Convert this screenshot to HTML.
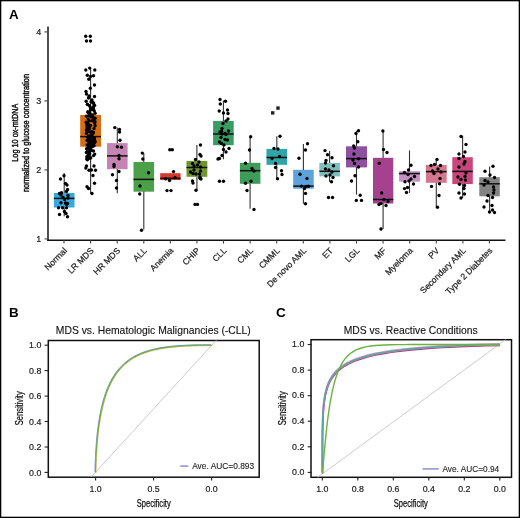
<!DOCTYPE html><html><head><meta charset="utf-8"><style>html,body{margin:0;padding:0;background:#fff;}svg{display:block;will-change:transform;}</style></head><body><svg width="520" height="518" viewBox="0 0 520 518" font-family="Liberation Sans, sans-serif">
<rect x="0" y="0" width="520" height="518" fill="#fff"/>
<text x="9.0" y="19.4" font-size="13.4" font-weight="bold" fill="#000">A</text>
<text x="9.1" y="317.4" font-size="13.4" font-weight="bold" fill="#000">B</text>
<text x="276.0" y="317.3" font-size="13.6" font-weight="bold" fill="#000">C</text>
<line x1="64.2" y1="173.1" x2="64.2" y2="216.3" stroke="#333" stroke-width="1.1"/>
<rect x="53.9" y="193.0" width="20.6" height="14.5" fill="#35A9DD"/>
<line x1="53.9" y1="198.4" x2="74.5" y2="198.4" stroke="#111" stroke-width="1.5"/>
<line x1="90.6" y1="68.0" x2="90.6" y2="193.8" stroke="#333" stroke-width="1.1"/>
<rect x="80.2" y="115.0" width="20.8" height="31.7" fill="#D56D15"/>
<line x1="80.2" y1="136.6" x2="101.0" y2="136.6" stroke="#111" stroke-width="1.5"/>
<line x1="117.3" y1="127.4" x2="117.3" y2="193.3" stroke="#333" stroke-width="1.1"/>
<rect x="107.0" y="143.1" width="20.6" height="26.1" fill="#C684B4"/>
<line x1="107.0" y1="155.9" x2="127.6" y2="155.9" stroke="#111" stroke-width="1.5"/>
<line x1="143.8" y1="153.0" x2="143.8" y2="229.6" stroke="#333" stroke-width="1.1"/>
<rect x="133.5" y="162.0" width="20.6" height="29.7" fill="#4DA04A"/>
<line x1="133.5" y1="179.4" x2="154.1" y2="179.4" stroke="#111" stroke-width="1.5"/>
<line x1="170.4" y1="173.2" x2="170.4" y2="180.1" stroke="#333" stroke-width="1.1"/>
<rect x="160.2" y="173.2" width="20.4" height="6.9" fill="#D8392D"/>
<line x1="160.2" y1="178.3" x2="180.6" y2="178.3" stroke="#111" stroke-width="1.5"/>
<line x1="196.9" y1="145.0" x2="196.9" y2="190.2" stroke="#333" stroke-width="1.1"/>
<rect x="186.5" y="160.9" width="20.8" height="15.9" fill="#70952F"/>
<line x1="186.5" y1="167.5" x2="207.3" y2="167.5" stroke="#111" stroke-width="1.5"/>
<line x1="223.4" y1="100.5" x2="223.4" y2="159.3" stroke="#333" stroke-width="1.1"/>
<rect x="213.1" y="120.9" width="20.6" height="24.3" fill="#399C63"/>
<line x1="213.1" y1="134.0" x2="233.7" y2="134.0" stroke="#111" stroke-width="1.5"/>
<line x1="250.1" y1="136.2" x2="250.1" y2="208.7" stroke="#333" stroke-width="1.1"/>
<rect x="239.9" y="162.8" width="20.5" height="21.0" fill="#3D9C58"/>
<line x1="239.9" y1="170.7" x2="260.4" y2="170.7" stroke="#111" stroke-width="1.5"/>
<line x1="276.8" y1="136.2" x2="276.8" y2="178.4" stroke="#333" stroke-width="1.1"/>
<rect x="266.5" y="148.9" width="20.6" height="15.9" fill="#2FA5A9"/>
<line x1="266.5" y1="157.5" x2="287.1" y2="157.5" stroke="#111" stroke-width="1.5"/>
<line x1="303.4" y1="143.9" x2="303.4" y2="203.8" stroke="#333" stroke-width="1.1"/>
<rect x="293.2" y="169.8" width="20.5" height="18.9" fill="#5CA3DB"/>
<line x1="293.2" y1="186.1" x2="313.7" y2="186.1" stroke="#111" stroke-width="1.5"/>
<line x1="329.6" y1="151.0" x2="329.6" y2="182.1" stroke="#333" stroke-width="1.1"/>
<rect x="319.4" y="162.8" width="20.5" height="13.6" fill="#7DBDBD"/>
<line x1="319.4" y1="171.3" x2="339.9" y2="171.3" stroke="#111" stroke-width="1.5"/>
<line x1="356.5" y1="130.8" x2="356.5" y2="194.6" stroke="#333" stroke-width="1.1"/>
<rect x="346.0" y="146.3" width="21.0" height="21.1" fill="#8F50A0"/>
<line x1="346.0" y1="158.6" x2="367.0" y2="158.6" stroke="#111" stroke-width="1.5"/>
<line x1="383.1" y1="131.0" x2="383.1" y2="228.9" stroke="#333" stroke-width="1.1"/>
<rect x="373.0" y="157.8" width="20.3" height="45.7" fill="#A5428F"/>
<line x1="373.0" y1="199.5" x2="393.3" y2="199.5" stroke="#111" stroke-width="1.5"/>
<line x1="409.5" y1="150.4" x2="409.5" y2="192.9" stroke="#333" stroke-width="1.1"/>
<rect x="399.1" y="171.2" width="20.8" height="10.5" fill="#C590C4"/>
<line x1="399.1" y1="173.6" x2="419.9" y2="173.6" stroke="#111" stroke-width="1.5"/>
<line x1="436.3" y1="159.6" x2="436.3" y2="207.0" stroke="#333" stroke-width="1.1"/>
<rect x="425.9" y="164.9" width="20.8" height="17.9" fill="#D5768F"/>
<line x1="425.9" y1="171.6" x2="446.7" y2="171.6" stroke="#111" stroke-width="1.5"/>
<line x1="462.6" y1="135.8" x2="462.6" y2="198.0" stroke="#333" stroke-width="1.1"/>
<rect x="452.3" y="157.2" width="20.5" height="26.9" fill="#C9467D"/>
<line x1="452.3" y1="171.4" x2="472.8" y2="171.4" stroke="#111" stroke-width="1.5"/>
<line x1="489.6" y1="166.4" x2="489.6" y2="212.8" stroke="#333" stroke-width="1.1"/>
<rect x="479.3" y="177.2" width="20.5" height="19.1" fill="#838383"/>
<line x1="479.3" y1="183.8" x2="499.8" y2="183.8" stroke="#111" stroke-width="1.5"/>
<circle cx="64.0" cy="175.8" r="1.68" fill="#000"/>
<circle cx="60.5" cy="179.0" r="1.68" fill="#000"/>
<circle cx="65.5" cy="183.5" r="1.68" fill="#000"/>
<circle cx="67.0" cy="185.0" r="1.68" fill="#000"/>
<circle cx="67.5" cy="189.5" r="1.68" fill="#000"/>
<circle cx="66.5" cy="191.5" r="1.68" fill="#000"/>
<circle cx="61.5" cy="192.8" r="1.68" fill="#000"/>
<circle cx="59.5" cy="193.5" r="1.68" fill="#000"/>
<circle cx="61.0" cy="195.0" r="1.68" fill="#000"/>
<circle cx="63.0" cy="197.5" r="1.68" fill="#000"/>
<circle cx="68.0" cy="195.5" r="1.68" fill="#000"/>
<circle cx="68.0" cy="198.0" r="1.68" fill="#000"/>
<circle cx="64.5" cy="199.5" r="1.68" fill="#000"/>
<circle cx="61.0" cy="202.8" r="1.68" fill="#000"/>
<circle cx="65.5" cy="203.0" r="1.68" fill="#000"/>
<circle cx="67.5" cy="203.5" r="1.68" fill="#000"/>
<circle cx="66.5" cy="204.5" r="1.68" fill="#000"/>
<circle cx="58.5" cy="207.8" r="1.68" fill="#000"/>
<circle cx="62.5" cy="207.8" r="1.68" fill="#000"/>
<circle cx="66.5" cy="207.8" r="1.68" fill="#000"/>
<circle cx="64.5" cy="211.5" r="1.68" fill="#000"/>
<circle cx="66.0" cy="213.5" r="1.68" fill="#000"/>
<circle cx="59.5" cy="214.5" r="1.68" fill="#000"/>
<circle cx="67.5" cy="216.8" r="1.68" fill="#000"/>
<circle cx="89.7" cy="68.1" r="1.68" fill="#000"/>
<circle cx="85.8" cy="70.0" r="1.68" fill="#000"/>
<circle cx="94.8" cy="70.0" r="1.68" fill="#000"/>
<circle cx="87.3" cy="75.2" r="1.68" fill="#000"/>
<circle cx="90.5" cy="76.5" r="1.68" fill="#000"/>
<circle cx="93.5" cy="75.8" r="1.68" fill="#000"/>
<circle cx="88.8" cy="79.3" r="1.68" fill="#000"/>
<circle cx="94.5" cy="85.0" r="1.68" fill="#000"/>
<circle cx="90.3" cy="88.2" r="1.68" fill="#000"/>
<circle cx="86.0" cy="91.5" r="1.68" fill="#000"/>
<circle cx="86.5" cy="94.0" r="1.68" fill="#000"/>
<circle cx="89.0" cy="96.0" r="1.68" fill="#000"/>
<circle cx="88.5" cy="98.0" r="1.68" fill="#000"/>
<circle cx="94.5" cy="96.5" r="1.68" fill="#000"/>
<circle cx="85.8" cy="168.0" r="1.68" fill="#000"/>
<circle cx="86.5" cy="166.0" r="1.68" fill="#000"/>
<circle cx="94.0" cy="166.0" r="1.68" fill="#000"/>
<circle cx="89.0" cy="170.3" r="1.68" fill="#000"/>
<circle cx="91.5" cy="170.0" r="1.68" fill="#000"/>
<circle cx="95.5" cy="170.3" r="1.68" fill="#000"/>
<circle cx="93.0" cy="175.5" r="1.68" fill="#000"/>
<circle cx="94.5" cy="183.2" r="1.68" fill="#000"/>
<circle cx="87.0" cy="186.7" r="1.68" fill="#000"/>
<circle cx="88.5" cy="188.5" r="1.68" fill="#000"/>
<circle cx="92.0" cy="193.5" r="1.68" fill="#000"/>
<circle cx="85.7" cy="36.2" r="1.68" fill="#000"/>
<circle cx="90.3" cy="36.2" r="1.68" fill="#000"/>
<circle cx="86.5" cy="41.0" r="1.68" fill="#000"/>
<circle cx="90.5" cy="41.0" r="1.68" fill="#000"/>
<circle cx="87.4" cy="159.8" r="1.68" fill="#000"/>
<circle cx="86.7" cy="158.9" r="1.68" fill="#000"/>
<circle cx="89.4" cy="158.3" r="1.68" fill="#000"/>
<circle cx="90.7" cy="157.9" r="1.68" fill="#000"/>
<circle cx="90.0" cy="157.3" r="1.68" fill="#000"/>
<circle cx="86.8" cy="156.6" r="1.68" fill="#000"/>
<circle cx="93.6" cy="155.6" r="1.68" fill="#000"/>
<circle cx="88.1" cy="155.2" r="1.68" fill="#000"/>
<circle cx="94.7" cy="154.1" r="1.68" fill="#000"/>
<circle cx="89.6" cy="153.5" r="1.68" fill="#000"/>
<circle cx="86.4" cy="152.5" r="1.68" fill="#000"/>
<circle cx="88.7" cy="151.9" r="1.68" fill="#000"/>
<circle cx="87.1" cy="151.7" r="1.68" fill="#000"/>
<circle cx="93.5" cy="151.0" r="1.68" fill="#000"/>
<circle cx="91.4" cy="150.4" r="1.68" fill="#000"/>
<circle cx="89.4" cy="149.4" r="1.68" fill="#000"/>
<circle cx="86.6" cy="148.8" r="1.68" fill="#000"/>
<circle cx="87.9" cy="148.4" r="1.68" fill="#000"/>
<circle cx="89.9" cy="147.4" r="1.68" fill="#000"/>
<circle cx="91.4" cy="147.2" r="1.68" fill="#000"/>
<circle cx="88.8" cy="146.8" r="1.68" fill="#000"/>
<circle cx="92.4" cy="146.4" r="1.68" fill="#000"/>
<circle cx="91.3" cy="146.2" r="1.68" fill="#000"/>
<circle cx="94.1" cy="145.8" r="1.68" fill="#000"/>
<circle cx="88.6" cy="145.4" r="1.68" fill="#000"/>
<circle cx="87.1" cy="145.0" r="1.68" fill="#000"/>
<circle cx="93.0" cy="144.9" r="1.68" fill="#000"/>
<circle cx="90.5" cy="144.6" r="1.68" fill="#000"/>
<circle cx="92.1" cy="144.3" r="1.68" fill="#000"/>
<circle cx="91.3" cy="143.8" r="1.68" fill="#000"/>
<circle cx="88.9" cy="143.4" r="1.68" fill="#000"/>
<circle cx="91.5" cy="143.2" r="1.68" fill="#000"/>
<circle cx="90.2" cy="142.9" r="1.68" fill="#000"/>
<circle cx="94.7" cy="142.5" r="1.68" fill="#000"/>
<circle cx="92.1" cy="142.2" r="1.68" fill="#000"/>
<circle cx="92.5" cy="142.1" r="1.68" fill="#000"/>
<circle cx="95.1" cy="141.5" r="1.68" fill="#000"/>
<circle cx="88.6" cy="141.2" r="1.68" fill="#000"/>
<circle cx="92.2" cy="141.0" r="1.68" fill="#000"/>
<circle cx="90.2" cy="140.8" r="1.68" fill="#000"/>
<circle cx="87.1" cy="140.4" r="1.68" fill="#000"/>
<circle cx="93.1" cy="140.1" r="1.68" fill="#000"/>
<circle cx="88.3" cy="139.7" r="1.68" fill="#000"/>
<circle cx="94.0" cy="139.3" r="1.68" fill="#000"/>
<circle cx="90.1" cy="139.1" r="1.68" fill="#000"/>
<circle cx="94.1" cy="138.6" r="1.68" fill="#000"/>
<circle cx="93.9" cy="138.2" r="1.68" fill="#000"/>
<circle cx="89.8" cy="138.1" r="1.68" fill="#000"/>
<circle cx="94.1" cy="137.7" r="1.68" fill="#000"/>
<circle cx="87.4" cy="137.2" r="1.68" fill="#000"/>
<circle cx="88.1" cy="137.1" r="1.68" fill="#000"/>
<circle cx="90.5" cy="136.8" r="1.68" fill="#000"/>
<circle cx="88.4" cy="136.1" r="1.68" fill="#000"/>
<circle cx="89.9" cy="135.9" r="1.68" fill="#000"/>
<circle cx="91.2" cy="135.2" r="1.68" fill="#000"/>
<circle cx="92.4" cy="134.3" r="1.68" fill="#000"/>
<circle cx="91.7" cy="134.0" r="1.68" fill="#000"/>
<circle cx="86.5" cy="133.4" r="1.68" fill="#000"/>
<circle cx="93.2" cy="132.7" r="1.68" fill="#000"/>
<circle cx="93.3" cy="132.2" r="1.68" fill="#000"/>
<circle cx="89.7" cy="131.9" r="1.68" fill="#000"/>
<circle cx="91.8" cy="131.6" r="1.68" fill="#000"/>
<circle cx="86.6" cy="131.0" r="1.68" fill="#000"/>
<circle cx="87.5" cy="130.4" r="1.68" fill="#000"/>
<circle cx="86.5" cy="129.8" r="1.68" fill="#000"/>
<circle cx="87.4" cy="129.5" r="1.68" fill="#000"/>
<circle cx="89.3" cy="128.9" r="1.68" fill="#000"/>
<circle cx="94.0" cy="128.4" r="1.68" fill="#000"/>
<circle cx="87.4" cy="127.5" r="1.68" fill="#000"/>
<circle cx="89.2" cy="127.2" r="1.68" fill="#000"/>
<circle cx="87.1" cy="126.6" r="1.68" fill="#000"/>
<circle cx="95.1" cy="125.8" r="1.68" fill="#000"/>
<circle cx="90.5" cy="125.4" r="1.68" fill="#000"/>
<circle cx="86.9" cy="125.1" r="1.68" fill="#000"/>
<circle cx="88.4" cy="124.4" r="1.68" fill="#000"/>
<circle cx="87.5" cy="123.6" r="1.68" fill="#000"/>
<circle cx="94.7" cy="123.5" r="1.68" fill="#000"/>
<circle cx="87.3" cy="122.7" r="1.68" fill="#000"/>
<circle cx="86.2" cy="122.2" r="1.68" fill="#000"/>
<circle cx="95.0" cy="121.6" r="1.68" fill="#000"/>
<circle cx="92.4" cy="120.9" r="1.68" fill="#000"/>
<circle cx="89.4" cy="120.7" r="1.68" fill="#000"/>
<circle cx="93.1" cy="120.2" r="1.68" fill="#000"/>
<circle cx="93.2" cy="119.5" r="1.68" fill="#000"/>
<circle cx="88.1" cy="119.0" r="1.68" fill="#000"/>
<circle cx="95.1" cy="118.2" r="1.68" fill="#000"/>
<circle cx="93.4" cy="117.6" r="1.68" fill="#000"/>
<circle cx="92.8" cy="117.0" r="1.68" fill="#000"/>
<circle cx="90.8" cy="116.8" r="1.68" fill="#000"/>
<circle cx="86.3" cy="116.1" r="1.68" fill="#000"/>
<circle cx="88.6" cy="115.6" r="1.68" fill="#000"/>
<circle cx="92.4" cy="114.9" r="1.68" fill="#000"/>
<circle cx="90.1" cy="113.8" r="1.68" fill="#000"/>
<circle cx="95.1" cy="113.2" r="1.68" fill="#000"/>
<circle cx="89.4" cy="112.5" r="1.68" fill="#000"/>
<circle cx="88.1" cy="112.4" r="1.68" fill="#000"/>
<circle cx="87.9" cy="111.8" r="1.68" fill="#000"/>
<circle cx="94.3" cy="110.9" r="1.68" fill="#000"/>
<circle cx="90.4" cy="110.1" r="1.68" fill="#000"/>
<circle cx="93.4" cy="109.6" r="1.68" fill="#000"/>
<circle cx="92.1" cy="109.3" r="1.68" fill="#000"/>
<circle cx="93.2" cy="108.2" r="1.68" fill="#000"/>
<circle cx="90.4" cy="107.7" r="1.68" fill="#000"/>
<circle cx="93.3" cy="107.4" r="1.68" fill="#000"/>
<circle cx="93.4" cy="106.7" r="1.68" fill="#000"/>
<circle cx="89.6" cy="105.7" r="1.68" fill="#000"/>
<circle cx="94.7" cy="105.4" r="1.68" fill="#000"/>
<circle cx="87.6" cy="104.6" r="1.68" fill="#000"/>
<circle cx="87.4" cy="104.3" r="1.68" fill="#000"/>
<circle cx="93.4" cy="103.2" r="1.68" fill="#000"/>
<circle cx="93.6" cy="103.0" r="1.68" fill="#000"/>
<circle cx="92.0" cy="101.9" r="1.68" fill="#000"/>
<circle cx="91.0" cy="101.7" r="1.68" fill="#000"/>
<circle cx="86.1" cy="101.2" r="1.68" fill="#000"/>
<circle cx="92.0" cy="100.0" r="1.68" fill="#000"/>
<circle cx="114.8" cy="127.6" r="1.68" fill="#000"/>
<circle cx="119.5" cy="129.5" r="1.68" fill="#000"/>
<circle cx="119.5" cy="132.0" r="1.68" fill="#000"/>
<circle cx="120.0" cy="140.3" r="1.68" fill="#000"/>
<circle cx="117.3" cy="146.8" r="1.68" fill="#000"/>
<circle cx="121.5" cy="147.2" r="1.68" fill="#000"/>
<circle cx="119.0" cy="155.5" r="1.68" fill="#000"/>
<circle cx="119.0" cy="158.7" r="1.68" fill="#000"/>
<circle cx="114.0" cy="164.5" r="1.68" fill="#000"/>
<circle cx="114.0" cy="166.5" r="1.68" fill="#000"/>
<circle cx="119.0" cy="171.5" r="1.68" fill="#000"/>
<circle cx="112.5" cy="174.8" r="1.68" fill="#000"/>
<circle cx="116.5" cy="180.5" r="1.68" fill="#000"/>
<circle cx="116.5" cy="188.0" r="1.68" fill="#000"/>
<circle cx="141.5" cy="230.2" r="1.68" fill="#000"/>
<circle cx="142.3" cy="153.1" r="1.68" fill="#000"/>
<circle cx="142.8" cy="159.0" r="1.68" fill="#000"/>
<circle cx="148.5" cy="172.7" r="1.68" fill="#000"/>
<circle cx="140.0" cy="186.0" r="1.68" fill="#000"/>
<circle cx="139.7" cy="194.0" r="1.68" fill="#000"/>
<circle cx="169.8" cy="149.8" r="1.68" fill="#000"/>
<circle cx="172.3" cy="149.8" r="1.68" fill="#000"/>
<circle cx="173.5" cy="171.6" r="1.68" fill="#000"/>
<circle cx="175.0" cy="177.5" r="1.68" fill="#000"/>
<circle cx="165.5" cy="178.7" r="1.68" fill="#000"/>
<circle cx="169.5" cy="180.5" r="1.68" fill="#000"/>
<circle cx="167.0" cy="190.6" r="1.68" fill="#000"/>
<circle cx="171.0" cy="190.6" r="1.68" fill="#000"/>
<circle cx="200.5" cy="145.0" r="1.68" fill="#000"/>
<circle cx="200.0" cy="154.5" r="1.68" fill="#000"/>
<circle cx="201.0" cy="156.0" r="1.68" fill="#000"/>
<circle cx="195.5" cy="159.5" r="1.68" fill="#000"/>
<circle cx="199.0" cy="162.0" r="1.68" fill="#000"/>
<circle cx="192.5" cy="163.5" r="1.68" fill="#000"/>
<circle cx="194.0" cy="166.0" r="1.68" fill="#000"/>
<circle cx="197.5" cy="165.0" r="1.68" fill="#000"/>
<circle cx="200.5" cy="167.0" r="1.68" fill="#000"/>
<circle cx="194.0" cy="170.0" r="1.68" fill="#000"/>
<circle cx="200.5" cy="171.0" r="1.68" fill="#000"/>
<circle cx="190.5" cy="172.0" r="1.68" fill="#000"/>
<circle cx="193.0" cy="173.5" r="1.68" fill="#000"/>
<circle cx="196.0" cy="174.0" r="1.68" fill="#000"/>
<circle cx="199.5" cy="174.0" r="1.68" fill="#000"/>
<circle cx="200.0" cy="177.0" r="1.68" fill="#000"/>
<circle cx="201.0" cy="179.0" r="1.68" fill="#000"/>
<circle cx="192.5" cy="181.0" r="1.68" fill="#000"/>
<circle cx="193.0" cy="183.0" r="1.68" fill="#000"/>
<circle cx="200.0" cy="178.3" r="1.68" fill="#000"/>
<circle cx="196.0" cy="190.3" r="1.68" fill="#000"/>
<circle cx="195.0" cy="204.4" r="1.68" fill="#000"/>
<circle cx="197.5" cy="204.4" r="1.68" fill="#000"/>
<circle cx="220.0" cy="99.5" r="1.68" fill="#000"/>
<circle cx="225.5" cy="101.2" r="1.68" fill="#000"/>
<circle cx="220.3" cy="104.0" r="1.68" fill="#000"/>
<circle cx="219.2" cy="111.0" r="1.68" fill="#000"/>
<circle cx="227.5" cy="110.0" r="1.68" fill="#000"/>
<circle cx="223.5" cy="113.0" r="1.68" fill="#000"/>
<circle cx="228.0" cy="113.5" r="1.68" fill="#000"/>
<circle cx="228.0" cy="119.0" r="1.68" fill="#000"/>
<circle cx="226.0" cy="121.0" r="1.68" fill="#000"/>
<circle cx="223.0" cy="123.5" r="1.68" fill="#000"/>
<circle cx="222.0" cy="128.5" r="1.68" fill="#000"/>
<circle cx="228.5" cy="131.0" r="1.68" fill="#000"/>
<circle cx="220.0" cy="132.0" r="1.68" fill="#000"/>
<circle cx="222.0" cy="134.0" r="1.68" fill="#000"/>
<circle cx="226.0" cy="134.5" r="1.68" fill="#000"/>
<circle cx="221.5" cy="131.2" r="1.68" fill="#000"/>
<circle cx="225.0" cy="133.5" r="1.68" fill="#000"/>
<circle cx="221.0" cy="137.5" r="1.68" fill="#000"/>
<circle cx="225.0" cy="139.5" r="1.68" fill="#000"/>
<circle cx="227.5" cy="140.0" r="1.68" fill="#000"/>
<circle cx="219.5" cy="142.0" r="1.68" fill="#000"/>
<circle cx="221.5" cy="143.5" r="1.68" fill="#000"/>
<circle cx="224.0" cy="145.0" r="1.68" fill="#000"/>
<circle cx="229.0" cy="148.5" r="1.68" fill="#000"/>
<circle cx="223.5" cy="149.5" r="1.68" fill="#000"/>
<circle cx="226.0" cy="152.0" r="1.68" fill="#000"/>
<circle cx="222.0" cy="155.5" r="1.68" fill="#000"/>
<circle cx="218.0" cy="159.0" r="1.68" fill="#000"/>
<circle cx="219.5" cy="158.5" r="1.68" fill="#000"/>
<circle cx="219.5" cy="181.3" r="1.68" fill="#000"/>
<circle cx="223.5" cy="181.3" r="1.68" fill="#000"/>
<circle cx="250.7" cy="136.8" r="1.68" fill="#000"/>
<circle cx="249.5" cy="150.0" r="1.68" fill="#000"/>
<circle cx="245.5" cy="163.3" r="1.68" fill="#000"/>
<circle cx="252.0" cy="168.5" r="1.68" fill="#000"/>
<circle cx="254.0" cy="171.0" r="1.68" fill="#000"/>
<circle cx="245.5" cy="183.3" r="1.68" fill="#000"/>
<circle cx="251.0" cy="181.3" r="1.68" fill="#000"/>
<circle cx="247.0" cy="190.5" r="1.68" fill="#000"/>
<circle cx="254.0" cy="209.5" r="1.68" fill="#000"/>
<circle cx="280.0" cy="136.3" r="1.68" fill="#000"/>
<circle cx="274.0" cy="148.5" r="1.68" fill="#000"/>
<circle cx="278.0" cy="149.0" r="1.68" fill="#000"/>
<circle cx="272.0" cy="158.5" r="1.68" fill="#000"/>
<circle cx="279.5" cy="156.5" r="1.68" fill="#000"/>
<circle cx="275.5" cy="163.5" r="1.68" fill="#000"/>
<circle cx="275.5" cy="167.5" r="1.68" fill="#000"/>
<circle cx="281.5" cy="170.8" r="1.68" fill="#000"/>
<circle cx="282.0" cy="174.5" r="1.68" fill="#000"/>
<circle cx="277.5" cy="178.7" r="1.68" fill="#000"/>
<circle cx="307.5" cy="143.7" r="1.68" fill="#000"/>
<circle cx="305.5" cy="150.0" r="1.68" fill="#000"/>
<circle cx="299.0" cy="158.3" r="1.68" fill="#000"/>
<circle cx="300.0" cy="174.3" r="1.68" fill="#000"/>
<circle cx="307.0" cy="178.5" r="1.68" fill="#000"/>
<circle cx="301.5" cy="186.1" r="1.68" fill="#000"/>
<circle cx="306.0" cy="186.4" r="1.68" fill="#000"/>
<circle cx="308.5" cy="186.3" r="1.68" fill="#000"/>
<circle cx="304.5" cy="188.5" r="1.68" fill="#000"/>
<circle cx="305.5" cy="193.4" r="1.68" fill="#000"/>
<circle cx="305.5" cy="203.8" r="1.68" fill="#000"/>
<circle cx="325.0" cy="150.6" r="1.68" fill="#000"/>
<circle cx="327.5" cy="154.8" r="1.68" fill="#000"/>
<circle cx="332.0" cy="157.7" r="1.68" fill="#000"/>
<circle cx="326.0" cy="160.5" r="1.68" fill="#000"/>
<circle cx="325.5" cy="163.0" r="1.68" fill="#000"/>
<circle cx="333.5" cy="165.7" r="1.68" fill="#000"/>
<circle cx="325.5" cy="169.0" r="1.68" fill="#000"/>
<circle cx="329.0" cy="170.0" r="1.68" fill="#000"/>
<circle cx="332.0" cy="172.0" r="1.68" fill="#000"/>
<circle cx="326.0" cy="176.0" r="1.68" fill="#000"/>
<circle cx="330.0" cy="175.0" r="1.68" fill="#000"/>
<circle cx="333.0" cy="177.5" r="1.68" fill="#000"/>
<circle cx="331.5" cy="181.7" r="1.68" fill="#000"/>
<circle cx="328.5" cy="197.5" r="1.68" fill="#000"/>
<circle cx="332.5" cy="197.5" r="1.68" fill="#000"/>
<circle cx="358.5" cy="130.8" r="1.68" fill="#000"/>
<circle cx="356.0" cy="133.5" r="1.68" fill="#000"/>
<circle cx="357.8" cy="141.7" r="1.68" fill="#000"/>
<circle cx="353.7" cy="146.0" r="1.68" fill="#000"/>
<circle cx="354.5" cy="148.0" r="1.68" fill="#000"/>
<circle cx="354.0" cy="154.0" r="1.68" fill="#000"/>
<circle cx="353.0" cy="160.0" r="1.68" fill="#000"/>
<circle cx="358.5" cy="158.8" r="1.68" fill="#000"/>
<circle cx="354.5" cy="163.5" r="1.68" fill="#000"/>
<circle cx="358.5" cy="167.0" r="1.68" fill="#000"/>
<circle cx="355.0" cy="175.7" r="1.68" fill="#000"/>
<circle cx="351.5" cy="181.0" r="1.68" fill="#000"/>
<circle cx="360.2" cy="195.2" r="1.68" fill="#000"/>
<circle cx="356.3" cy="200.4" r="1.68" fill="#000"/>
<circle cx="361.5" cy="200.4" r="1.68" fill="#000"/>
<circle cx="382.9" cy="131.0" r="1.68" fill="#000"/>
<circle cx="383.5" cy="149.5" r="1.68" fill="#000"/>
<circle cx="387.0" cy="152.5" r="1.68" fill="#000"/>
<circle cx="379.3" cy="163.3" r="1.68" fill="#000"/>
<circle cx="381.7" cy="193.0" r="1.68" fill="#000"/>
<circle cx="384.0" cy="199.5" r="1.68" fill="#000"/>
<circle cx="388.0" cy="201.5" r="1.68" fill="#000"/>
<circle cx="381.0" cy="203.5" r="1.68" fill="#000"/>
<circle cx="379.0" cy="204.5" r="1.68" fill="#000"/>
<circle cx="386.0" cy="205.5" r="1.68" fill="#000"/>
<circle cx="381.0" cy="229.0" r="1.68" fill="#000"/>
<circle cx="411.0" cy="165.3" r="1.68" fill="#000"/>
<circle cx="408.5" cy="170.0" r="1.68" fill="#000"/>
<circle cx="404.5" cy="172.5" r="1.68" fill="#000"/>
<circle cx="408.0" cy="174.5" r="1.68" fill="#000"/>
<circle cx="414.5" cy="176.5" r="1.68" fill="#000"/>
<circle cx="411.0" cy="179.0" r="1.68" fill="#000"/>
<circle cx="405.0" cy="181.7" r="1.68" fill="#000"/>
<circle cx="409.0" cy="181.0" r="1.68" fill="#000"/>
<circle cx="413.5" cy="184.0" r="1.68" fill="#000"/>
<circle cx="407.5" cy="187.5" r="1.68" fill="#000"/>
<circle cx="406.5" cy="192.5" r="1.68" fill="#000"/>
<circle cx="404.5" cy="188.6" r="1.68" fill="#000"/>
<circle cx="437.0" cy="159.4" r="1.68" fill="#000"/>
<circle cx="434.5" cy="164.5" r="1.68" fill="#000"/>
<circle cx="431.0" cy="165.5" r="1.68" fill="#000"/>
<circle cx="440.5" cy="165.5" r="1.68" fill="#000"/>
<circle cx="438.0" cy="169.0" r="1.68" fill="#000"/>
<circle cx="432.5" cy="171.0" r="1.68" fill="#000"/>
<circle cx="434.0" cy="173.5" r="1.68" fill="#000"/>
<circle cx="441.0" cy="172.0" r="1.68" fill="#000"/>
<circle cx="440.0" cy="178.5" r="1.68" fill="#000"/>
<circle cx="439.5" cy="183.7" r="1.68" fill="#000"/>
<circle cx="431.5" cy="186.4" r="1.68" fill="#000"/>
<circle cx="439.0" cy="195.5" r="1.68" fill="#000"/>
<circle cx="437.5" cy="207.2" r="1.68" fill="#000"/>
<circle cx="461.0" cy="136.5" r="1.68" fill="#000"/>
<circle cx="466.0" cy="144.5" r="1.68" fill="#000"/>
<circle cx="459.0" cy="154.0" r="1.68" fill="#000"/>
<circle cx="465.0" cy="152.0" r="1.68" fill="#000"/>
<circle cx="463.5" cy="156.5" r="1.68" fill="#000"/>
<circle cx="459.0" cy="158.5" r="1.68" fill="#000"/>
<circle cx="465.0" cy="161.5" r="1.68" fill="#000"/>
<circle cx="464.0" cy="164.0" r="1.68" fill="#000"/>
<circle cx="459.0" cy="167.0" r="1.68" fill="#000"/>
<circle cx="466.0" cy="173.0" r="1.68" fill="#000"/>
<circle cx="465.0" cy="176.5" r="1.68" fill="#000"/>
<circle cx="458.0" cy="177.0" r="1.68" fill="#000"/>
<circle cx="461.0" cy="179.5" r="1.68" fill="#000"/>
<circle cx="465.5" cy="180.0" r="1.68" fill="#000"/>
<circle cx="459.5" cy="184.2" r="1.68" fill="#000"/>
<circle cx="464.5" cy="185.5" r="1.68" fill="#000"/>
<circle cx="464.0" cy="188.5" r="1.68" fill="#000"/>
<circle cx="459.0" cy="193.0" r="1.68" fill="#000"/>
<circle cx="464.5" cy="194.0" r="1.68" fill="#000"/>
<circle cx="461.0" cy="198.0" r="1.68" fill="#000"/>
<circle cx="493.0" cy="166.3" r="1.68" fill="#000"/>
<circle cx="485.0" cy="171.3" r="1.68" fill="#000"/>
<circle cx="490.0" cy="175.0" r="1.68" fill="#000"/>
<circle cx="494.5" cy="177.5" r="1.68" fill="#000"/>
<circle cx="485.0" cy="180.5" r="1.68" fill="#000"/>
<circle cx="488.0" cy="182.0" r="1.68" fill="#000"/>
<circle cx="484.0" cy="185.0" r="1.68" fill="#000"/>
<circle cx="493.5" cy="187.0" r="1.68" fill="#000"/>
<circle cx="494.0" cy="190.0" r="1.68" fill="#000"/>
<circle cx="493.5" cy="193.0" r="1.68" fill="#000"/>
<circle cx="488.0" cy="195.5" r="1.68" fill="#000"/>
<circle cx="492.5" cy="197.5" r="1.68" fill="#000"/>
<circle cx="487.0" cy="201.0" r="1.68" fill="#000"/>
<circle cx="492.0" cy="205.5" r="1.68" fill="#000"/>
<circle cx="484.0" cy="207.0" r="1.68" fill="#000"/>
<circle cx="492.5" cy="210.0" r="1.68" fill="#000"/>
<circle cx="494.5" cy="212.5" r="1.68" fill="#000"/>
<circle cx="489.5" cy="212.0" r="1.68" fill="#000"/>
<rect x="271" y="111.2" width="3.4" height="3.4" fill="#222"/><rect x="276.3" y="106.4" width="3.4" height="3.4" fill="#222"/>
<line x1="48" y1="26.5" x2="48" y2="241" stroke="#222" stroke-width="1.6"/>
<line x1="47.2" y1="240.3" x2="505.5" y2="240.3" stroke="#111" stroke-width="1.6"/>
<line x1="44.5" y1="238.9" x2="48" y2="238.9" stroke="#444" stroke-width="1.1"/>
<text x="41.3" y="242.1" font-size="9" text-anchor="end" fill="#1a1a1a" stroke="#1a1a1a" stroke-width="0.2">1</text>
<line x1="44.5" y1="169.9" x2="48" y2="169.9" stroke="#444" stroke-width="1.1"/>
<text x="41.3" y="173.1" font-size="9" text-anchor="end" fill="#1a1a1a" stroke="#1a1a1a" stroke-width="0.2">2</text>
<line x1="44.5" y1="100.9" x2="48" y2="100.9" stroke="#444" stroke-width="1.1"/>
<text x="41.3" y="104.1" font-size="9" text-anchor="end" fill="#1a1a1a" stroke="#1a1a1a" stroke-width="0.2">3</text>
<line x1="44.5" y1="31.9" x2="48" y2="31.9" stroke="#444" stroke-width="1.1"/>
<text x="41.3" y="35.1" font-size="9" text-anchor="end" fill="#1a1a1a" stroke="#1a1a1a" stroke-width="0.2">4</text>
<line x1="64.0" y1="240.3" x2="64.0" y2="243.6" stroke="#444" stroke-width="1.1"/>
<text transform="translate(67.6,251.2) rotate(-45)" font-size="8.6" text-anchor="end" fill="#1a1a1a" stroke="#1a1a1a" stroke-width="0.2">Normal</text>
<line x1="90.6" y1="240.3" x2="90.6" y2="243.6" stroke="#444" stroke-width="1.1"/>
<text transform="translate(94.2,251.2) rotate(-45)" font-size="8.6" text-anchor="end" fill="#1a1a1a" stroke="#1a1a1a" stroke-width="0.2">LR MDS</text>
<line x1="117.2" y1="240.3" x2="117.2" y2="243.6" stroke="#444" stroke-width="1.1"/>
<text transform="translate(120.8,251.2) rotate(-45)" font-size="8.6" text-anchor="end" fill="#1a1a1a" stroke="#1a1a1a" stroke-width="0.2">HR MDS</text>
<line x1="143.8" y1="240.3" x2="143.8" y2="243.6" stroke="#444" stroke-width="1.1"/>
<text transform="translate(147.4,251.2) rotate(-45)" font-size="8.6" text-anchor="end" fill="#1a1a1a" stroke="#1a1a1a" stroke-width="0.2">ALL</text>
<line x1="170.4" y1="240.3" x2="170.4" y2="243.6" stroke="#444" stroke-width="1.1"/>
<text transform="translate(174.0,251.2) rotate(-45)" font-size="8.6" text-anchor="end" fill="#1a1a1a" stroke="#1a1a1a" stroke-width="0.2">Anemia</text>
<line x1="196.9" y1="240.3" x2="196.9" y2="243.6" stroke="#444" stroke-width="1.1"/>
<text transform="translate(200.5,251.2) rotate(-45)" font-size="8.6" text-anchor="end" fill="#1a1a1a" stroke="#1a1a1a" stroke-width="0.2">CHIP</text>
<line x1="223.5" y1="240.3" x2="223.5" y2="243.6" stroke="#444" stroke-width="1.1"/>
<text transform="translate(227.1,251.2) rotate(-45)" font-size="8.6" text-anchor="end" fill="#1a1a1a" stroke="#1a1a1a" stroke-width="0.2">CLL</text>
<line x1="250.1" y1="240.3" x2="250.1" y2="243.6" stroke="#444" stroke-width="1.1"/>
<text transform="translate(253.7,251.2) rotate(-45)" font-size="8.6" text-anchor="end" fill="#1a1a1a" stroke="#1a1a1a" stroke-width="0.2">CML</text>
<line x1="276.7" y1="240.3" x2="276.7" y2="243.6" stroke="#444" stroke-width="1.1"/>
<text transform="translate(280.3,251.2) rotate(-45)" font-size="8.6" text-anchor="end" fill="#1a1a1a" stroke="#1a1a1a" stroke-width="0.2">CMML</text>
<line x1="303.3" y1="240.3" x2="303.3" y2="243.6" stroke="#444" stroke-width="1.1"/>
<text transform="translate(306.9,251.2) rotate(-45)" font-size="8.6" text-anchor="end" fill="#1a1a1a" stroke="#1a1a1a" stroke-width="0.2">De novo AML</text>
<line x1="329.9" y1="240.3" x2="329.9" y2="243.6" stroke="#444" stroke-width="1.1"/>
<text transform="translate(333.5,251.2) rotate(-45)" font-size="8.6" text-anchor="end" fill="#1a1a1a" stroke="#1a1a1a" stroke-width="0.2">ET</text>
<line x1="356.5" y1="240.3" x2="356.5" y2="243.6" stroke="#444" stroke-width="1.1"/>
<text transform="translate(360.1,251.2) rotate(-45)" font-size="8.6" text-anchor="end" fill="#1a1a1a" stroke="#1a1a1a" stroke-width="0.2">LGL</text>
<line x1="383.1" y1="240.3" x2="383.1" y2="243.6" stroke="#444" stroke-width="1.1"/>
<text transform="translate(386.7,251.2) rotate(-45)" font-size="8.6" text-anchor="end" fill="#1a1a1a" stroke="#1a1a1a" stroke-width="0.2">MF</text>
<line x1="409.7" y1="240.3" x2="409.7" y2="243.6" stroke="#444" stroke-width="1.1"/>
<text transform="translate(413.3,251.2) rotate(-45)" font-size="8.6" text-anchor="end" fill="#1a1a1a" stroke="#1a1a1a" stroke-width="0.2">Myeloma</text>
<line x1="436.3" y1="240.3" x2="436.3" y2="243.6" stroke="#444" stroke-width="1.1"/>
<text transform="translate(439.9,251.2) rotate(-45)" font-size="8.6" text-anchor="end" fill="#1a1a1a" stroke="#1a1a1a" stroke-width="0.2">PV</text>
<line x1="462.9" y1="240.3" x2="462.9" y2="243.6" stroke="#444" stroke-width="1.1"/>
<text transform="translate(466.5,251.2) rotate(-45)" font-size="8.6" text-anchor="end" fill="#1a1a1a" stroke="#1a1a1a" stroke-width="0.2">Secondary AML</text>
<line x1="489.4" y1="240.3" x2="489.4" y2="243.6" stroke="#444" stroke-width="1.1"/>
<text transform="translate(493.0,251.2) rotate(-45)" font-size="8.6" text-anchor="end" fill="#1a1a1a" stroke="#1a1a1a" stroke-width="0.2">Type 2 Diabetes</text>
<text transform="translate(18.3,132.7) rotate(-90)" font-size="9.6" stroke="#111" stroke-width="0.45" text-anchor="middle" fill="#111" textLength="58" lengthAdjust="spacingAndGlyphs">Log 10 ox-mtDNA</text>
<text transform="translate(28.6,133) rotate(-90)" font-size="9.6" stroke="#111" stroke-width="0.45" text-anchor="middle" fill="#111" textLength="118" lengthAdjust="spacingAndGlyphs">normalized to glucose concentration</text>
<rect x="48.3" y="340.5" width="210.9" height="136.7" fill="none" stroke="#111" stroke-width="1.5"/>
<line x1="44.6" y1="472.4" x2="48.5" y2="472.4" stroke="#222" stroke-width="1.1"/>
<text x="41.3" y="475.6" font-size="8.8" text-anchor="end" fill="#1a1a1a" stroke="#1a1a1a" stroke-width="0.18">0.0</text>
<line x1="307.7" y1="472.4" x2="311.3" y2="472.4" stroke="#222" stroke-width="1.1"/>
<text x="304.3" y="475.1" font-size="8.8" text-anchor="end" fill="#1a1a1a" stroke="#1a1a1a" stroke-width="0.18">0.0</text>
<line x1="44.6" y1="447.0" x2="48.5" y2="447.0" stroke="#222" stroke-width="1.1"/>
<text x="41.3" y="450.2" font-size="8.8" text-anchor="end" fill="#1a1a1a" stroke="#1a1a1a" stroke-width="0.18">0.2</text>
<line x1="307.7" y1="446.8" x2="311.3" y2="446.8" stroke="#222" stroke-width="1.1"/>
<text x="304.3" y="449.5" font-size="8.8" text-anchor="end" fill="#1a1a1a" stroke="#1a1a1a" stroke-width="0.18">0.2</text>
<line x1="44.6" y1="421.5" x2="48.5" y2="421.5" stroke="#222" stroke-width="1.1"/>
<text x="41.3" y="424.7" font-size="8.8" text-anchor="end" fill="#1a1a1a" stroke="#1a1a1a" stroke-width="0.18">0.4</text>
<line x1="307.7" y1="421.2" x2="311.3" y2="421.2" stroke="#222" stroke-width="1.1"/>
<text x="304.3" y="423.9" font-size="8.8" text-anchor="end" fill="#1a1a1a" stroke="#1a1a1a" stroke-width="0.18">0.4</text>
<line x1="44.6" y1="396.1" x2="48.5" y2="396.1" stroke="#222" stroke-width="1.1"/>
<text x="41.3" y="399.3" font-size="8.8" text-anchor="end" fill="#1a1a1a" stroke="#1a1a1a" stroke-width="0.18">0.6</text>
<line x1="307.7" y1="395.7" x2="311.3" y2="395.7" stroke="#222" stroke-width="1.1"/>
<text x="304.3" y="398.4" font-size="8.8" text-anchor="end" fill="#1a1a1a" stroke="#1a1a1a" stroke-width="0.18">0.6</text>
<line x1="44.6" y1="370.6" x2="48.5" y2="370.6" stroke="#222" stroke-width="1.1"/>
<text x="41.3" y="373.8" font-size="8.8" text-anchor="end" fill="#1a1a1a" stroke="#1a1a1a" stroke-width="0.18">0.8</text>
<line x1="307.7" y1="370.1" x2="311.3" y2="370.1" stroke="#222" stroke-width="1.1"/>
<text x="304.3" y="372.8" font-size="8.8" text-anchor="end" fill="#1a1a1a" stroke="#1a1a1a" stroke-width="0.18">0.8</text>
<line x1="44.6" y1="345.2" x2="48.5" y2="345.2" stroke="#222" stroke-width="1.1"/>
<text x="41.3" y="348.4" font-size="8.8" text-anchor="end" fill="#1a1a1a" stroke="#1a1a1a" stroke-width="0.18">1.0</text>
<line x1="307.7" y1="344.5" x2="311.3" y2="344.5" stroke="#222" stroke-width="1.1"/>
<text x="304.3" y="347.2" font-size="8.8" text-anchor="end" fill="#1a1a1a" stroke="#1a1a1a" stroke-width="0.18">1.0</text>
<line x1="95.6" y1="476.9" x2="95.6" y2="480.4" stroke="#222" stroke-width="1.1"/>
<text x="95.6" y="492.3" font-size="8.8" text-anchor="middle" fill="#1a1a1a" stroke="#1a1a1a" stroke-width="0.18">1.0</text>
<line x1="153.6" y1="476.9" x2="153.6" y2="480.4" stroke="#222" stroke-width="1.1"/>
<text x="153.6" y="492.3" font-size="8.8" text-anchor="middle" fill="#1a1a1a" stroke="#1a1a1a" stroke-width="0.18">0.5</text>
<line x1="211.6" y1="476.9" x2="211.6" y2="480.4" stroke="#222" stroke-width="1.1"/>
<text x="211.6" y="492.3" font-size="8.8" text-anchor="middle" fill="#1a1a1a" stroke="#1a1a1a" stroke-width="0.18">0.0</text>
<line x1="322.3" y1="476.9" x2="322.3" y2="480.4" stroke="#222" stroke-width="1.1"/>
<text x="322.3" y="492.3" font-size="8.8" text-anchor="middle" fill="#1a1a1a" stroke="#1a1a1a" stroke-width="0.18">1.0</text>
<line x1="357.8" y1="476.9" x2="357.8" y2="480.4" stroke="#222" stroke-width="1.1"/>
<text x="357.8" y="492.3" font-size="8.8" text-anchor="middle" fill="#1a1a1a" stroke="#1a1a1a" stroke-width="0.18">0.8</text>
<line x1="393.3" y1="476.9" x2="393.3" y2="480.4" stroke="#222" stroke-width="1.1"/>
<text x="393.3" y="492.3" font-size="8.8" text-anchor="middle" fill="#1a1a1a" stroke="#1a1a1a" stroke-width="0.18">0.6</text>
<line x1="428.8" y1="476.9" x2="428.8" y2="480.4" stroke="#222" stroke-width="1.1"/>
<text x="428.8" y="492.3" font-size="8.8" text-anchor="middle" fill="#1a1a1a" stroke="#1a1a1a" stroke-width="0.18">0.4</text>
<line x1="464.3" y1="476.9" x2="464.3" y2="480.4" stroke="#222" stroke-width="1.1"/>
<text x="464.3" y="492.3" font-size="8.8" text-anchor="middle" fill="#1a1a1a" stroke="#1a1a1a" stroke-width="0.18">0.2</text>
<line x1="499.8" y1="476.9" x2="499.8" y2="480.4" stroke="#222" stroke-width="1.1"/>
<text x="499.8" y="492.3" font-size="8.8" text-anchor="middle" fill="#1a1a1a" stroke="#1a1a1a" stroke-width="0.18">0.0</text>
<rect x="311" y="339.7" width="200.5" height="137.6" fill="none" stroke="#111" stroke-width="1.5"/>
<text x="55.8" y="334.4" font-size="10.6" fill="#111" stroke="#111" stroke-width="0.12" textLength="195" lengthAdjust="spacingAndGlyphs">MDS vs. Hematologic Malignancies (-CLL)</text>
<text x="343.7" y="334.4" font-size="10.6" fill="#111" stroke="#111" stroke-width="0.12" textLength="134" lengthAdjust="spacingAndGlyphs">MDS vs. Reactive Conditions</text>
<text x="153.7" y="507" font-size="10" text-anchor="middle" fill="#111" stroke="#111" stroke-width="0.25" textLength="34" lengthAdjust="spacingAndGlyphs">Specificity</text>
<text x="410.8" y="507" font-size="10" text-anchor="middle" fill="#111" stroke="#111" stroke-width="0.25" textLength="34" lengthAdjust="spacingAndGlyphs">Specificity</text>
<text transform="translate(22.6,408.3) rotate(-90)" font-size="10" text-anchor="middle" fill="#111" stroke="#111" stroke-width="0.25" textLength="34" lengthAdjust="spacingAndGlyphs">Sensitivity</text>
<text transform="translate(285.6,408.3) rotate(-90)" font-size="10" text-anchor="middle" fill="#111" stroke="#111" stroke-width="0.25" textLength="34" lengthAdjust="spacingAndGlyphs">Sensitivity</text>
<line x1="91.3" y1="476.9" x2="216.3" y2="340.3" stroke="#c6c6c6" stroke-width="0.9"/>
<line x1="317.6" y1="477.3" x2="505.5" y2="339.7" stroke="#c6c6c6" stroke-width="0.9"/>
<path d="M95.50,472.40 L95.50,472.37 L95.50,472.37 L95.50,472.37 L95.50,472.37 L95.50,472.36 L95.50,472.36 L95.50,472.36 L95.50,472.35 L95.50,472.35 L95.50,472.35 L95.50,472.34 L95.50,472.34 L95.50,472.33 L95.50,472.33 L95.50,472.32 L95.50,472.32 L95.50,472.31 L95.50,472.31 L95.50,472.30 L95.50,472.29 L95.50,472.28 L95.50,472.28 L95.50,472.27 L95.50,472.26 L95.50,472.25 L95.50,472.24 L95.50,472.22 L95.50,472.21 L95.50,472.20 L95.50,472.18 L95.50,472.17 L95.50,472.15 L95.50,472.13 L95.50,472.11 L95.50,472.09 L95.50,472.07 L95.50,472.04 L95.50,472.02 L95.50,471.99 L95.50,471.96 L95.50,471.93 L95.50,471.90 L95.50,471.86 L95.50,471.83 L95.51,471.79 L95.51,471.74 L95.51,471.70 L95.51,471.65 L95.51,471.60 L95.51,471.54 L95.51,471.48 L95.51,471.42 L95.51,471.35 L95.51,471.28 L95.51,471.20 L95.51,471.12 L95.51,471.03 L95.52,470.94 L95.52,470.84 L95.52,470.74 L95.52,470.63 L95.52,470.51 L95.52,470.39 L95.53,470.25 L95.53,470.11 L95.53,469.96 L95.53,469.80 L95.54,469.63 L95.54,469.45 L95.54,469.26 L95.55,469.06 L95.55,468.84 L95.56,468.62 L95.56,468.38 L95.57,468.12 L95.58,467.85 L95.58,467.57 L95.59,467.26 L95.60,466.94 L95.61,466.61 L95.62,466.25 L95.63,465.87 L95.64,465.47 L95.65,465.05 L95.66,464.61 L95.68,464.14 L95.69,463.65 L95.71,463.13 L95.73,462.58 L95.75,462.01 L95.78,461.40 L95.80,460.77 L95.83,460.10 L95.86,459.39 L95.89,458.65 L95.92,457.88 L95.96,457.06 L96.00,456.21 L96.05,455.32 L96.10,454.38 L96.15,453.40 L96.21,452.38 L96.28,451.30 L96.35,450.19 L96.42,449.02 L96.51,447.80 L96.60,446.53 L96.69,445.21 L96.80,443.83 L96.92,442.40 L97.05,440.91 L97.19,439.37 L97.34,437.77 L97.51,436.11 L97.69,434.39 L97.88,432.61 L98.10,430.78 L98.33,428.88 L98.59,426.93 L98.87,424.91 L99.17,422.84 L99.50,420.72 L99.86,418.53 L100.26,416.30 L100.69,414.01 L101.15,411.67 L101.66,409.28 L102.22,406.85 L102.83,404.38 L103.49,401.87 L104.21,399.33 L104.99,396.77 L105.85,394.18 L106.78,391.57 L107.80,388.95 L108.91,386.33 L110.12,383.71 L111.43,381.11 L112.87,378.52 L114.44,375.96 L116.15,373.44 L118.01,370.96 L120.04,368.54 L122.25,366.19 L124.66,363.92 L127.29,361.73 L130.16,359.64 L133.29,357.66 L136.69,355.80 L140.41,354.07 L144.46,352.48 L148.87,351.03 L153.69,349.74 L158.94,348.61 L164.66,347.64 L170.89,346.84 L177.69,346.21 L185.10,345.74 L193.19,345.42 L202.00,345.25 L211.60,345.20 L211.60,345.20" fill="none" stroke="#5584C6" stroke-width="0.9" transform="translate(-0.5,-0.45)"/>
<path d="M95.50,472.40 L95.50,472.37 L95.50,472.37 L95.50,472.37 L95.50,472.37 L95.50,472.36 L95.50,472.36 L95.50,472.36 L95.50,472.35 L95.50,472.35 L95.50,472.35 L95.50,472.34 L95.50,472.34 L95.50,472.33 L95.50,472.33 L95.50,472.32 L95.50,472.32 L95.50,472.31 L95.50,472.31 L95.50,472.30 L95.50,472.29 L95.50,472.28 L95.50,472.28 L95.50,472.27 L95.50,472.26 L95.50,472.25 L95.50,472.24 L95.50,472.22 L95.50,472.21 L95.50,472.20 L95.50,472.18 L95.50,472.17 L95.50,472.15 L95.50,472.13 L95.50,472.11 L95.50,472.09 L95.50,472.07 L95.50,472.04 L95.50,472.02 L95.50,471.99 L95.50,471.96 L95.50,471.93 L95.50,471.90 L95.50,471.86 L95.50,471.83 L95.51,471.79 L95.51,471.74 L95.51,471.70 L95.51,471.65 L95.51,471.60 L95.51,471.54 L95.51,471.48 L95.51,471.42 L95.51,471.35 L95.51,471.28 L95.51,471.20 L95.51,471.12 L95.51,471.03 L95.52,470.94 L95.52,470.84 L95.52,470.74 L95.52,470.63 L95.52,470.51 L95.52,470.39 L95.53,470.25 L95.53,470.11 L95.53,469.96 L95.53,469.80 L95.54,469.63 L95.54,469.45 L95.54,469.26 L95.55,469.06 L95.55,468.84 L95.56,468.62 L95.56,468.38 L95.57,468.12 L95.58,467.85 L95.58,467.57 L95.59,467.26 L95.60,466.94 L95.61,466.61 L95.62,466.25 L95.63,465.87 L95.64,465.47 L95.65,465.05 L95.66,464.61 L95.68,464.14 L95.69,463.65 L95.71,463.13 L95.73,462.58 L95.75,462.01 L95.78,461.40 L95.80,460.77 L95.83,460.10 L95.86,459.39 L95.89,458.65 L95.92,457.88 L95.96,457.06 L96.00,456.21 L96.05,455.32 L96.10,454.38 L96.15,453.40 L96.21,452.38 L96.28,451.30 L96.35,450.19 L96.42,449.02 L96.51,447.80 L96.60,446.53 L96.69,445.21 L96.80,443.83 L96.92,442.40 L97.05,440.91 L97.19,439.37 L97.34,437.77 L97.51,436.11 L97.69,434.39 L97.88,432.61 L98.10,430.78 L98.33,428.88 L98.59,426.93 L98.87,424.91 L99.17,422.84 L99.50,420.72 L99.86,418.53 L100.26,416.30 L100.69,414.01 L101.15,411.67 L101.66,409.28 L102.22,406.85 L102.83,404.38 L103.49,401.87 L104.21,399.33 L104.99,396.77 L105.85,394.18 L106.78,391.57 L107.80,388.95 L108.91,386.33 L110.12,383.71 L111.43,381.11 L112.87,378.52 L114.44,375.96 L116.15,373.44 L118.01,370.96 L120.04,368.54 L122.25,366.19 L124.66,363.92 L127.29,361.73 L130.16,359.64 L133.29,357.66 L136.69,355.80 L140.41,354.07 L144.46,352.48 L148.87,351.03 L153.69,349.74 L158.94,348.61 L164.66,347.64 L170.89,346.84 L177.69,346.21 L185.10,345.74 L193.19,345.42 L202.00,345.25 L211.60,345.20 L211.60,345.20" fill="none" stroke="#E0B050" stroke-width="0.9" transform="translate(0.5,0.45)"/>
<path d="M95.50,472.40 L95.50,472.37 L95.50,472.37 L95.50,472.37 L95.50,472.37 L95.50,472.36 L95.50,472.36 L95.50,472.36 L95.50,472.35 L95.50,472.35 L95.50,472.35 L95.50,472.34 L95.50,472.34 L95.50,472.33 L95.50,472.33 L95.50,472.32 L95.50,472.32 L95.50,472.31 L95.50,472.31 L95.50,472.30 L95.50,472.29 L95.50,472.28 L95.50,472.28 L95.50,472.27 L95.50,472.26 L95.50,472.25 L95.50,472.24 L95.50,472.22 L95.50,472.21 L95.50,472.20 L95.50,472.18 L95.50,472.17 L95.50,472.15 L95.50,472.13 L95.50,472.11 L95.50,472.09 L95.50,472.07 L95.50,472.04 L95.50,472.02 L95.50,471.99 L95.50,471.96 L95.50,471.93 L95.50,471.90 L95.50,471.86 L95.50,471.83 L95.51,471.79 L95.51,471.74 L95.51,471.70 L95.51,471.65 L95.51,471.60 L95.51,471.54 L95.51,471.48 L95.51,471.42 L95.51,471.35 L95.51,471.28 L95.51,471.20 L95.51,471.12 L95.51,471.03 L95.52,470.94 L95.52,470.84 L95.52,470.74 L95.52,470.63 L95.52,470.51 L95.52,470.39 L95.53,470.25 L95.53,470.11 L95.53,469.96 L95.53,469.80 L95.54,469.63 L95.54,469.45 L95.54,469.26 L95.55,469.06 L95.55,468.84 L95.56,468.62 L95.56,468.38 L95.57,468.12 L95.58,467.85 L95.58,467.57 L95.59,467.26 L95.60,466.94 L95.61,466.61 L95.62,466.25 L95.63,465.87 L95.64,465.47 L95.65,465.05 L95.66,464.61 L95.68,464.14 L95.69,463.65 L95.71,463.13 L95.73,462.58 L95.75,462.01 L95.78,461.40 L95.80,460.77 L95.83,460.10 L95.86,459.39 L95.89,458.65 L95.92,457.88 L95.96,457.06 L96.00,456.21 L96.05,455.32 L96.10,454.38 L96.15,453.40 L96.21,452.38 L96.28,451.30 L96.35,450.19 L96.42,449.02 L96.51,447.80 L96.60,446.53 L96.69,445.21 L96.80,443.83 L96.92,442.40 L97.05,440.91 L97.19,439.37 L97.34,437.77 L97.51,436.11 L97.69,434.39 L97.88,432.61 L98.10,430.78 L98.33,428.88 L98.59,426.93 L98.87,424.91 L99.17,422.84 L99.50,420.72 L99.86,418.53 L100.26,416.30 L100.69,414.01 L101.15,411.67 L101.66,409.28 L102.22,406.85 L102.83,404.38 L103.49,401.87 L104.21,399.33 L104.99,396.77 L105.85,394.18 L106.78,391.57 L107.80,388.95 L108.91,386.33 L110.12,383.71 L111.43,381.11 L112.87,378.52 L114.44,375.96 L116.15,373.44 L118.01,370.96 L120.04,368.54 L122.25,366.19 L124.66,363.92 L127.29,361.73 L130.16,359.64 L133.29,357.66 L136.69,355.80 L140.41,354.07 L144.46,352.48 L148.87,351.03 L153.69,349.74 L158.94,348.61 L164.66,347.64 L170.89,346.84 L177.69,346.21 L185.10,345.74 L193.19,345.42 L202.00,345.25 L211.60,345.20 L211.60,345.20" fill="none" stroke="#6DAE45" stroke-width="1.1"/>
<path d="M322.30,472.40 L322.30,465.43 L322.30,465.25 L322.30,465.06 L322.30,464.87 L322.30,464.68 L322.30,464.48 L322.30,464.28 L322.30,464.08 L322.30,463.86 L322.30,463.65 L322.30,463.43 L322.30,463.20 L322.30,462.97 L322.30,462.73 L322.30,462.49 L322.30,462.24 L322.30,461.99 L322.30,461.73 L322.30,461.46 L322.30,461.19 L322.30,460.92 L322.30,460.63 L322.30,460.34 L322.30,460.05 L322.30,459.74 L322.30,459.43 L322.30,459.12 L322.30,458.80 L322.30,458.47 L322.30,458.13 L322.30,457.78 L322.30,457.43 L322.30,457.07 L322.30,456.71 L322.30,456.33 L322.30,455.95 L322.30,455.56 L322.30,455.16 L322.30,454.76 L322.31,454.34 L322.31,453.92 L322.31,453.48 L322.31,453.04 L322.31,452.59 L322.31,452.13 L322.31,451.67 L322.31,451.19 L322.31,450.70 L322.31,450.21 L322.31,449.70 L322.31,449.18 L322.31,448.66 L322.32,448.12 L322.32,447.58 L322.32,447.02 L322.32,446.45 L322.32,445.87 L322.32,445.29 L322.33,444.69 L322.33,444.08 L322.33,443.46 L322.33,442.82 L322.34,442.18 L322.34,441.53 L322.34,440.86 L322.35,440.18 L322.35,439.49 L322.36,438.79 L322.36,438.08 L322.37,437.35 L322.37,436.61 L322.38,435.87 L322.39,435.10 L322.40,434.33 L322.41,433.54 L322.42,432.74 L322.43,431.93 L322.44,431.11 L322.45,430.27 L322.46,429.42 L322.48,428.56 L322.49,427.69 L322.51,426.80 L322.53,425.90 L322.55,424.99 L322.57,424.06 L322.60,423.13 L322.62,422.18 L322.65,421.21 L322.69,420.24 L322.72,419.25 L322.76,418.25 L322.80,417.24 L322.85,416.21 L322.89,415.18 L322.95,414.13 L323.01,413.07 L323.07,412.00 L323.14,410.91 L323.22,409.82 L323.30,408.71 L323.39,407.60 L323.49,406.47 L323.59,405.33 L323.71,404.18 L323.84,403.03 L323.98,401.86 L324.13,400.68 L324.29,399.50 L324.47,398.30 L324.67,397.10 L324.88,395.89 L325.11,394.68 L325.37,393.45 L325.64,392.22 L325.95,390.99 L326.27,389.75 L326.63,388.50 L327.02,387.25 L327.45,386.00 L327.91,384.75 L328.42,383.49 L328.97,382.23 L329.57,380.97 L330.23,379.71 L330.94,378.46 L331.72,377.20 L332.57,375.95 L333.50,374.70 L334.51,373.45 L335.61,372.21 L336.81,370.98 L338.12,369.75 L339.55,368.54 L341.10,367.33 L342.80,366.13 L344.65,364.95 L346.66,363.78 L348.86,362.63 L351.25,361.49 L353.86,360.37 L356.71,359.26 L359.81,358.18 L363.20,357.12 L366.89,356.09 L370.91,355.08 L375.29,354.09 L380.07,353.14 L385.28,352.22 L390.96,351.33 L397.15,350.47 L403.90,349.65 L411.26,348.88 L419.28,348.14 L428.03,347.45 L437.57,346.81 L447.96,346.22 L459.29,345.68 L471.65,345.21 L485.12,344.81 L499.80,344.50 L499.80,344.50" fill="none" stroke="#C5247C" stroke-width="1.6" transform="translate(0.25,1.0)"/>
<path d="M322.30,472.40 L322.30,465.43 L322.30,465.25 L322.30,465.06 L322.30,464.87 L322.30,464.68 L322.30,464.48 L322.30,464.28 L322.30,464.08 L322.30,463.86 L322.30,463.65 L322.30,463.43 L322.30,463.20 L322.30,462.97 L322.30,462.73 L322.30,462.49 L322.30,462.24 L322.30,461.99 L322.30,461.73 L322.30,461.46 L322.30,461.19 L322.30,460.92 L322.30,460.63 L322.30,460.34 L322.30,460.05 L322.30,459.74 L322.30,459.43 L322.30,459.12 L322.30,458.80 L322.30,458.47 L322.30,458.13 L322.30,457.78 L322.30,457.43 L322.30,457.07 L322.30,456.71 L322.30,456.33 L322.30,455.95 L322.30,455.56 L322.30,455.16 L322.30,454.76 L322.31,454.34 L322.31,453.92 L322.31,453.48 L322.31,453.04 L322.31,452.59 L322.31,452.13 L322.31,451.67 L322.31,451.19 L322.31,450.70 L322.31,450.21 L322.31,449.70 L322.31,449.18 L322.31,448.66 L322.32,448.12 L322.32,447.58 L322.32,447.02 L322.32,446.45 L322.32,445.87 L322.32,445.29 L322.33,444.69 L322.33,444.08 L322.33,443.46 L322.33,442.82 L322.34,442.18 L322.34,441.53 L322.34,440.86 L322.35,440.18 L322.35,439.49 L322.36,438.79 L322.36,438.08 L322.37,437.35 L322.37,436.61 L322.38,435.87 L322.39,435.10 L322.40,434.33 L322.41,433.54 L322.42,432.74 L322.43,431.93 L322.44,431.11 L322.45,430.27 L322.46,429.42 L322.48,428.56 L322.49,427.69 L322.51,426.80 L322.53,425.90 L322.55,424.99 L322.57,424.06 L322.60,423.13 L322.62,422.18 L322.65,421.21 L322.69,420.24 L322.72,419.25 L322.76,418.25 L322.80,417.24 L322.85,416.21 L322.89,415.18 L322.95,414.13 L323.01,413.07 L323.07,412.00 L323.14,410.91 L323.22,409.82 L323.30,408.71 L323.39,407.60 L323.49,406.47 L323.59,405.33 L323.71,404.18 L323.84,403.03 L323.98,401.86 L324.13,400.68 L324.29,399.50 L324.47,398.30 L324.67,397.10 L324.88,395.89 L325.11,394.68 L325.37,393.45 L325.64,392.22 L325.95,390.99 L326.27,389.75 L326.63,388.50 L327.02,387.25 L327.45,386.00 L327.91,384.75 L328.42,383.49 L328.97,382.23 L329.57,380.97 L330.23,379.71 L330.94,378.46 L331.72,377.20 L332.57,375.95 L333.50,374.70 L334.51,373.45 L335.61,372.21 L336.81,370.98 L338.12,369.75 L339.55,368.54 L341.10,367.33 L342.80,366.13 L344.65,364.95 L346.66,363.78 L348.86,362.63 L351.25,361.49 L353.86,360.37 L356.71,359.26 L359.81,358.18 L363.20,357.12 L366.89,356.09 L370.91,355.08 L375.29,354.09 L380.07,353.14 L385.28,352.22 L390.96,351.33 L397.15,350.47 L403.90,349.65 L411.26,348.88 L419.28,348.14 L428.03,347.45 L437.57,346.81 L447.96,346.22 L459.29,345.68 L471.65,345.21 L485.12,344.81 L499.80,344.50 L499.80,344.50" fill="none" stroke="#E2A2C2" stroke-width="1.4" transform="translate(-0.25,-0.8)"/>
<path d="M322.30,472.40 L322.30,465.43 L322.30,465.25 L322.30,465.06 L322.30,464.87 L322.30,464.68 L322.30,464.48 L322.30,464.28 L322.30,464.08 L322.30,463.86 L322.30,463.65 L322.30,463.43 L322.30,463.20 L322.30,462.97 L322.30,462.73 L322.30,462.49 L322.30,462.24 L322.30,461.99 L322.30,461.73 L322.30,461.46 L322.30,461.19 L322.30,460.92 L322.30,460.63 L322.30,460.34 L322.30,460.05 L322.30,459.74 L322.30,459.43 L322.30,459.12 L322.30,458.80 L322.30,458.47 L322.30,458.13 L322.30,457.78 L322.30,457.43 L322.30,457.07 L322.30,456.71 L322.30,456.33 L322.30,455.95 L322.30,455.56 L322.30,455.16 L322.30,454.76 L322.31,454.34 L322.31,453.92 L322.31,453.48 L322.31,453.04 L322.31,452.59 L322.31,452.13 L322.31,451.67 L322.31,451.19 L322.31,450.70 L322.31,450.21 L322.31,449.70 L322.31,449.18 L322.31,448.66 L322.32,448.12 L322.32,447.58 L322.32,447.02 L322.32,446.45 L322.32,445.87 L322.32,445.29 L322.33,444.69 L322.33,444.08 L322.33,443.46 L322.33,442.82 L322.34,442.18 L322.34,441.53 L322.34,440.86 L322.35,440.18 L322.35,439.49 L322.36,438.79 L322.36,438.08 L322.37,437.35 L322.37,436.61 L322.38,435.87 L322.39,435.10 L322.40,434.33 L322.41,433.54 L322.42,432.74 L322.43,431.93 L322.44,431.11 L322.45,430.27 L322.46,429.42 L322.48,428.56 L322.49,427.69 L322.51,426.80 L322.53,425.90 L322.55,424.99 L322.57,424.06 L322.60,423.13 L322.62,422.18 L322.65,421.21 L322.69,420.24 L322.72,419.25 L322.76,418.25 L322.80,417.24 L322.85,416.21 L322.89,415.18 L322.95,414.13 L323.01,413.07 L323.07,412.00 L323.14,410.91 L323.22,409.82 L323.30,408.71 L323.39,407.60 L323.49,406.47 L323.59,405.33 L323.71,404.18 L323.84,403.03 L323.98,401.86 L324.13,400.68 L324.29,399.50 L324.47,398.30 L324.67,397.10 L324.88,395.89 L325.11,394.68 L325.37,393.45 L325.64,392.22 L325.95,390.99 L326.27,389.75 L326.63,388.50 L327.02,387.25 L327.45,386.00 L327.91,384.75 L328.42,383.49 L328.97,382.23 L329.57,380.97 L330.23,379.71 L330.94,378.46 L331.72,377.20 L332.57,375.95 L333.50,374.70 L334.51,373.45 L335.61,372.21 L336.81,370.98 L338.12,369.75 L339.55,368.54 L341.10,367.33 L342.80,366.13 L344.65,364.95 L346.66,363.78 L348.86,362.63 L351.25,361.49 L353.86,360.37 L356.71,359.26 L359.81,358.18 L363.20,357.12 L366.89,356.09 L370.91,355.08 L375.29,354.09 L380.07,353.14 L385.28,352.22 L390.96,351.33 L397.15,350.47 L403.90,349.65 L411.26,348.88 L419.28,348.14 L428.03,347.45 L437.57,346.81 L447.96,346.22 L459.29,345.68 L471.65,345.21 L485.12,344.81 L499.80,344.50 L499.80,344.50" fill="none" stroke="#8C9C9C" stroke-width="1.4" transform="translate(0.1,0.45)"/>
<path d="M322.30,472.40 L322.30,465.43 L322.30,465.25 L322.30,465.06 L322.30,464.87 L322.30,464.68 L322.30,464.48 L322.30,464.28 L322.30,464.08 L322.30,463.86 L322.30,463.65 L322.30,463.43 L322.30,463.20 L322.30,462.97 L322.30,462.73 L322.30,462.49 L322.30,462.24 L322.30,461.99 L322.30,461.73 L322.30,461.46 L322.30,461.19 L322.30,460.92 L322.30,460.63 L322.30,460.34 L322.30,460.05 L322.30,459.74 L322.30,459.43 L322.30,459.12 L322.30,458.80 L322.30,458.47 L322.30,458.13 L322.30,457.78 L322.30,457.43 L322.30,457.07 L322.30,456.71 L322.30,456.33 L322.30,455.95 L322.30,455.56 L322.30,455.16 L322.30,454.76 L322.31,454.34 L322.31,453.92 L322.31,453.48 L322.31,453.04 L322.31,452.59 L322.31,452.13 L322.31,451.67 L322.31,451.19 L322.31,450.70 L322.31,450.21 L322.31,449.70 L322.31,449.18 L322.31,448.66 L322.32,448.12 L322.32,447.58 L322.32,447.02 L322.32,446.45 L322.32,445.87 L322.32,445.29 L322.33,444.69 L322.33,444.08 L322.33,443.46 L322.33,442.82 L322.34,442.18 L322.34,441.53 L322.34,440.86 L322.35,440.18 L322.35,439.49 L322.36,438.79 L322.36,438.08 L322.37,437.35 L322.37,436.61 L322.38,435.87 L322.39,435.10 L322.40,434.33 L322.41,433.54 L322.42,432.74 L322.43,431.93 L322.44,431.11 L322.45,430.27 L322.46,429.42 L322.48,428.56 L322.49,427.69 L322.51,426.80 L322.53,425.90 L322.55,424.99 L322.57,424.06 L322.60,423.13 L322.62,422.18 L322.65,421.21 L322.69,420.24 L322.72,419.25 L322.76,418.25 L322.80,417.24 L322.85,416.21 L322.89,415.18 L322.95,414.13 L323.01,413.07 L323.07,412.00 L323.14,410.91 L323.22,409.82 L323.30,408.71 L323.39,407.60 L323.49,406.47 L323.59,405.33 L323.71,404.18 L323.84,403.03 L323.98,401.86 L324.13,400.68 L324.29,399.50 L324.47,398.30 L324.67,397.10 L324.88,395.89 L325.11,394.68 L325.37,393.45 L325.64,392.22 L325.95,390.99 L326.27,389.75 L326.63,388.50 L327.02,387.25 L327.45,386.00 L327.91,384.75 L328.42,383.49 L328.97,382.23 L329.57,380.97 L330.23,379.71 L330.94,378.46 L331.72,377.20 L332.57,375.95 L333.50,374.70 L334.51,373.45 L335.61,372.21 L336.81,370.98 L338.12,369.75 L339.55,368.54 L341.10,367.33 L342.80,366.13 L344.65,364.95 L346.66,363.78 L348.86,362.63 L351.25,361.49 L353.86,360.37 L356.71,359.26 L359.81,358.18 L363.20,357.12 L366.89,356.09 L370.91,355.08 L375.29,354.09 L380.07,353.14 L385.28,352.22 L390.96,351.33 L397.15,350.47 L403.90,349.65 L411.26,348.88 L419.28,348.14 L428.03,347.45 L437.57,346.81 L447.96,346.22 L459.29,345.68 L471.65,345.21 L485.12,344.81 L499.80,344.50 L499.80,344.50" fill="none" stroke="#5AA5A6" stroke-width="1.4" transform="translate(-0.1,-0.1)"/>
<path d="M322.30,472.40 L322.30,472.40 L322.30,472.40 L322.30,472.40 L322.30,472.40 L322.30,472.40 L322.30,472.40 L322.30,472.40 L322.30,472.40 L322.30,472.40 L322.30,472.40 L322.30,472.40 L322.30,472.40 L322.30,472.40 L322.30,472.40 L322.30,472.40 L322.30,472.40 L322.30,472.40 L322.30,472.40 L322.30,472.40 L322.30,472.40 L322.30,472.40 L322.30,472.40 L322.30,472.40 L322.30,472.40 L322.30,472.40 L322.30,472.40 L322.30,472.40 L322.30,472.40 L322.30,472.40 L322.30,472.40 L322.30,472.40 L322.30,472.40 L322.30,472.40 L322.30,472.40 L322.30,472.40 L322.30,472.40 L322.30,472.40 L322.30,472.40 L322.30,472.40 L322.31,472.40 L322.31,472.40 L322.31,472.40 L322.31,472.40 L322.31,472.40 L322.31,472.40 L322.31,472.40 L322.31,472.40 L322.31,472.40 L322.31,472.40 L322.31,472.40 L322.31,472.39 L322.31,472.39 L322.32,472.39 L322.32,472.39 L322.32,472.39 L322.32,472.39 L322.32,472.39 L322.32,472.38 L322.33,472.38 L322.33,472.38 L322.33,472.37 L322.33,472.37 L322.34,472.36 L322.34,472.35 L322.34,472.34 L322.35,472.33 L322.35,472.32 L322.36,472.31 L322.36,472.30 L322.37,472.28 L322.37,472.26 L322.38,472.23 L322.39,472.20 L322.40,472.17 L322.41,472.14 L322.42,472.09 L322.43,472.04 L322.44,471.99 L322.45,471.92 L322.46,471.85 L322.48,471.76 L322.49,471.66 L322.51,471.55 L322.53,471.42 L322.55,471.27 L322.57,471.11 L322.60,470.92 L322.62,470.70 L322.65,470.46 L322.69,470.18 L322.72,469.87 L322.76,469.52 L322.80,469.13 L322.85,468.69 L322.89,468.20 L322.95,467.64 L323.01,467.03 L323.07,466.35 L323.14,465.59 L323.22,464.75 L323.30,463.82 L323.39,462.79 L323.49,461.67 L323.59,460.43 L323.71,459.08 L323.84,457.61 L323.98,456.00 L324.13,454.26 L324.29,452.38 L324.47,450.34 L324.67,448.16 L324.88,445.82 L325.11,443.32 L325.37,440.66 L325.64,437.84 L325.95,434.86 L326.27,431.72 L326.63,428.43 L327.02,425.00 L327.45,421.44 L327.91,417.76 L328.42,413.97 L328.97,410.09 L329.57,406.14 L330.23,402.13 L330.94,398.10 L331.72,394.07 L332.57,390.06 L333.50,386.09 L334.51,382.21 L335.61,378.43 L336.81,374.78 L338.12,371.28 L339.55,367.97 L341.10,364.86 L342.80,361.96 L344.65,359.30 L346.66,356.88 L348.86,354.71 L351.25,352.79 L353.86,351.12 L356.71,349.69 L359.81,348.48 L363.20,347.48 L366.89,346.68 L370.91,346.05 L375.29,345.56 L380.07,345.20 L385.28,344.95 L390.96,344.77 L397.15,344.65 L403.90,344.58 L411.26,344.54 L419.28,344.52 L428.03,344.51 L437.57,344.50 L447.96,344.50 L459.29,344.50 L471.65,344.50 L485.12,344.50 L499.80,344.50 L499.80,344.50" fill="none" stroke="#6BB23F" stroke-width="1.4"/>
<line x1="180.2" y1="466.1" x2="188.4" y2="466.1" stroke="#7A7FC4" stroke-width="1.3"/>
<text x="192.2" y="468.9" font-size="9" fill="#222" stroke="#222" stroke-width="0.12" textLength="62" lengthAdjust="spacingAndGlyphs">Ave. AUC=0.893</text>
<line x1="422.5" y1="468.9" x2="438.8" y2="468.9" stroke="#7A7FC4" stroke-width="1.3"/>
<text x="442.5" y="471.8" font-size="9" fill="#222" stroke="#222" stroke-width="0.12" textLength="56.7" lengthAdjust="spacingAndGlyphs">Ave. AUC=0.94</text>
<rect x="0.6" y="0.6" width="518.8" height="516.8" fill="none" stroke="#000" stroke-width="1.4"/>
</svg></body></html>
